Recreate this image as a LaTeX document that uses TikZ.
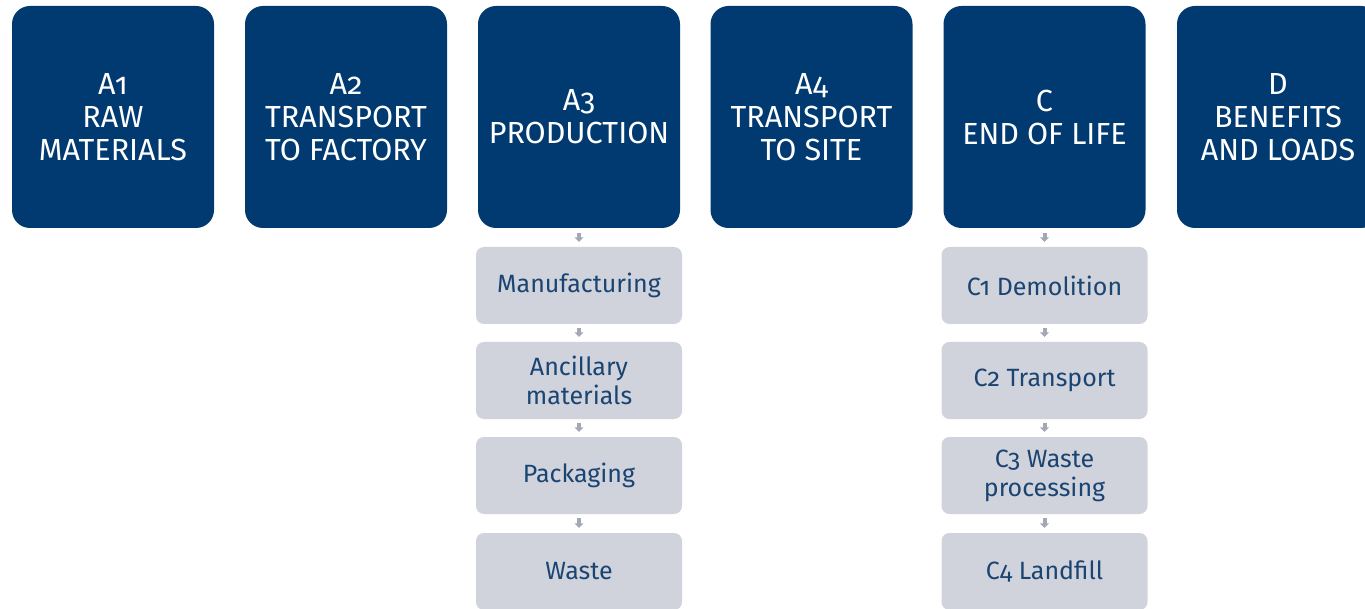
\documentclass[tikz,border=0pt]{standalone}
\usepackage{fontspec}
\setmainfont{Fira Sans}[Numbers=OldStyle]
\usetikzlibrary{arrows.meta}
\definecolor{navy}{HTML}{003A70}
\definecolor{lgray}{HTML}{D0D3DB}
\definecolor{arr}{HTML}{A3A8B4}
\definecolor{dtext}{HTML}{1A4472}
\tikzset{
  stage/.style={fill=navy, rounded corners=18pt, minimum width=202pt, minimum height=222pt,
    text=white, align=center, inner sep=0pt, font=\fontsize{30.5}{33}\selectfont},
  sub/.style={fill=lgray, rounded corners=8pt, minimum width=206pt, minimum height=77pt,
    text=dtext, align=center, inner sep=0pt, font=\fontsize{25}{29}\selectfont},
  flow/.style={draw=arr, line width=4pt, -{Triangle[width=9pt,length=4.5pt]}}
}
\begin{document}
\begin{tikzpicture}[x=1pt,y=-1pt]
\useasboundingbox (0,0) rectangle (1365,609);
\clip (0,0) rectangle (1365,609);
\node[stage] (a1) at (113,117) {A1\\RAW\\MATERIALS};
\node[stage] (a2) at (346,117) {A2\\TRANSPORT\\TO FACTORY};
\node[stage] (a3) at (579,117) {A3\\PRODUCTION};
\node[stage] (a4) at (811.5,117) {A4\\TRANSPORT\\TO SITE};
\node[stage] (c) at (1044.5,117) {C\\END OF LIFE};
\node[stage] (d) at (1278,117) {D\\BENEFITS\\AND LOADS};
\node[sub] (m) at (579,285.5) {Manufacturing};
\node[sub] (an) at (579,380.5) {Ancillary\\materials};
\node[sub] (p) at (579,475.5) {Packaging};
\node[sub] (w) at (579,571.5) {Waste};
\node[sub] (c1) at (1044.5,285.5) {C1 Demolition};
\node[sub] (c2) at (1044.5,380.5) {C2 Transport};
\node[sub] (c3) at (1044.5,475.5) {C3 Waste\\processing};
\node[sub] (c4) at (1044.5,571.5) {C4 Landfill};
\draw[flow] ([yshift=-5pt]a3.south) -- ([yshift=5pt]m.north);
\draw[flow] ([yshift=-4pt]m.south) -- ([yshift=5pt]an.north);
\draw[flow] ([yshift=-4pt]an.south) -- ([yshift=5pt]p.north);
\draw[flow] ([yshift=-4pt]p.south) -- ([yshift=5pt]w.north);
\draw[flow] ([yshift=-5pt]c.south) -- ([yshift=5pt]c1.north);
\draw[flow] ([yshift=-4pt]c1.south) -- ([yshift=5pt]c2.north);
\draw[flow] ([yshift=-4pt]c2.south) -- ([yshift=5pt]c3.north);
\draw[flow] ([yshift=-4pt]c3.south) -- ([yshift=5pt]c4.north);
\end{tikzpicture}
\end{document}
